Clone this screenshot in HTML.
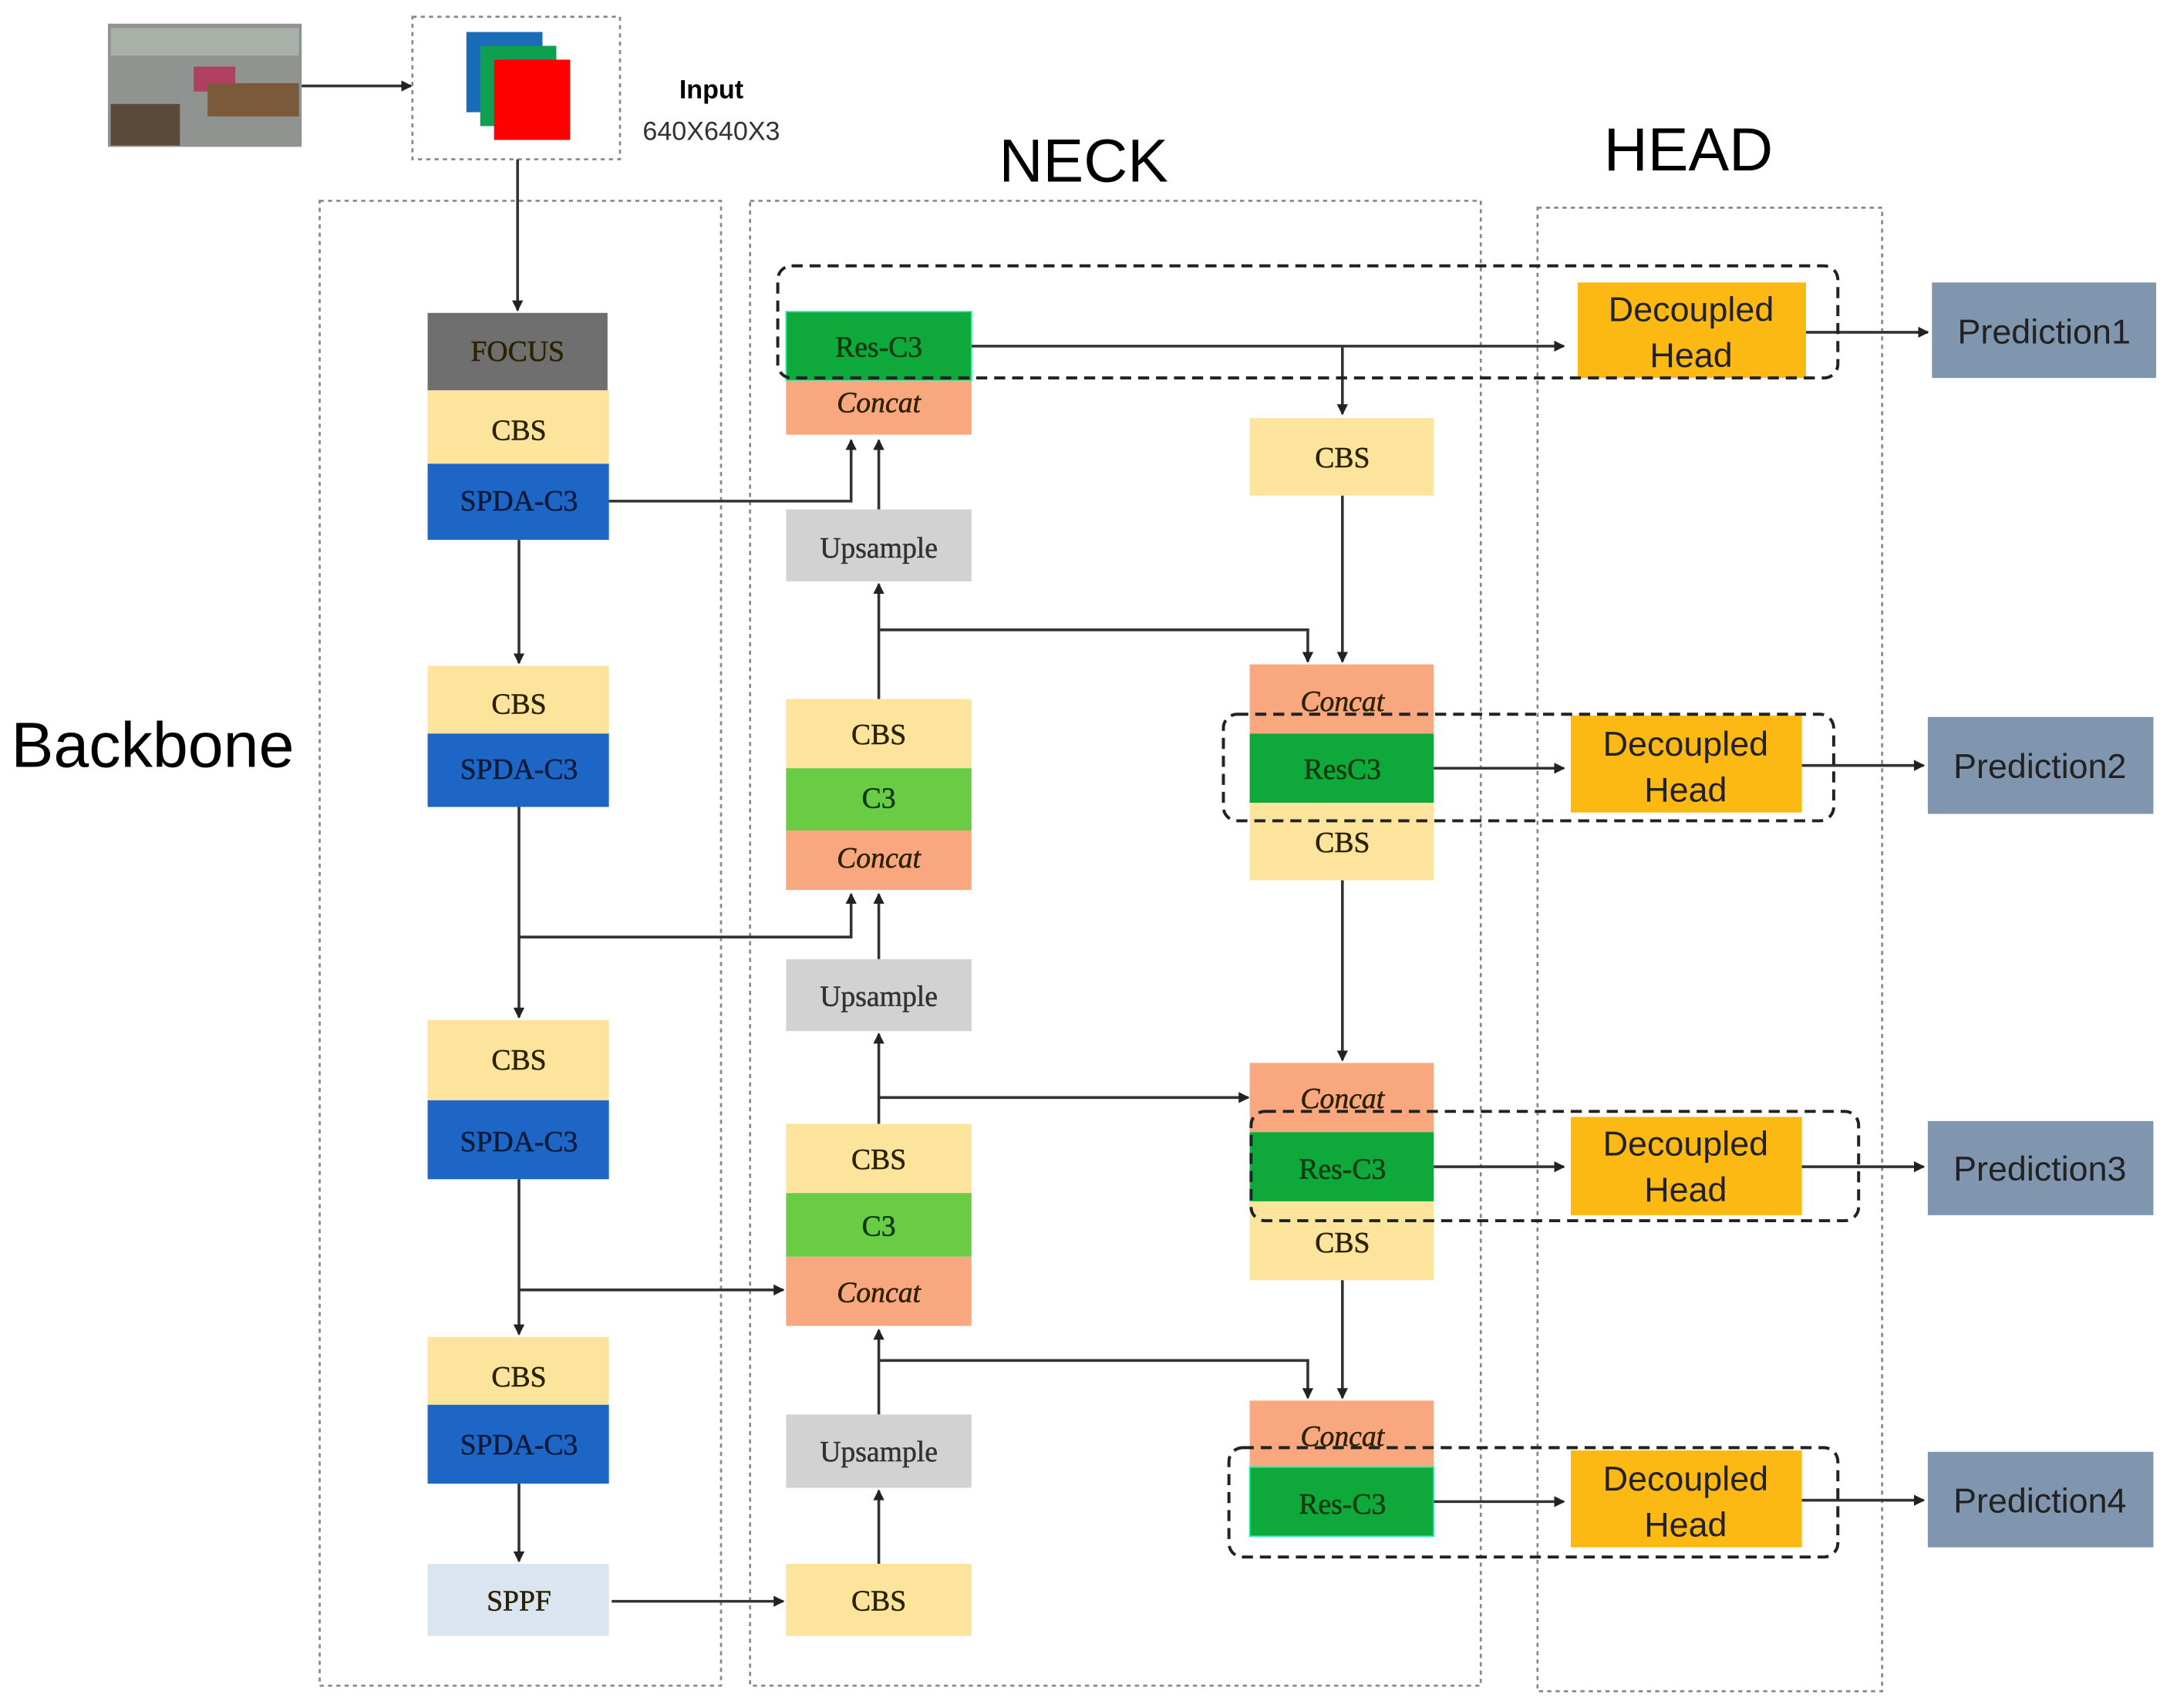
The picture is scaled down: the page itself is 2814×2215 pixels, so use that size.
<!DOCTYPE html>
<html><head><meta charset="utf-8"><style>html,body{margin:0;padding:0;background:#fff}svg{display:block}</style></head>
<body>
<svg width="2814" height="2215" viewBox="0 0 1568 1234" xmlns="http://www.w3.org/2000/svg">
<defs>
<marker id="a" markerWidth="8" markerHeight="8" refX="7" refY="4" orient="auto" markerUnits="userSpaceOnUse"><path d="M0,0 L8,4 L0,8 z" fill="#222"/></marker>
</defs>
<style>
.s{font-family:"Liberation Serif",serif;font-size:21px;text-anchor:middle;dominant-baseline:central;fill:#2a2200;stroke:#2a2200;stroke-width:0.3}
.i{font-style:italic}
.h{font-family:"Liberation Sans",sans-serif;font-size:25px;text-anchor:middle;fill:#222}
.l{stroke:#333;stroke-width:2;fill:none}
.d{stroke:#888;stroke-width:1.5;fill:none;stroke-dasharray:3,3}
.k{stroke:#222;stroke-width:2.2;fill:none;stroke-dasharray:8,5}
</style>
<rect x="78" y="17" width="140" height="89" fill="#8f9490"/>
<rect x="80" y="75" width="50" height="30" fill="#5a4a3a"/>
<rect x="140" y="48" width="30" height="18" fill="#b04060"/>
<rect x="150" y="60" width="66" height="24" fill="#7a5a3a"/>
<rect x="80" y="20" width="136" height="20" fill="#a8b0a8"/>
<line x1="218" y1="62" x2="297" y2="62" class="l" marker-end="url(#a)"/>
<rect x="298" y="12" width="150" height="103" class="d"/>
<rect x="337" y="23" width="55" height="58" fill="#1a6cb8"/>
<rect x="347" y="33" width="55" height="58" fill="#0ea050"/>
<rect x="357" y="43" width="55" height="58" fill="#f00"/>
<text x="514" y="71" font-family="Liberation Sans,sans-serif" font-size="19" font-weight="bold" text-anchor="middle">Input</text>
<text x="514" y="101" font-family="Liberation Sans,sans-serif" font-size="19" text-anchor="middle" fill="#333">640X640X3</text>
<rect x="231" y="145" width="290" height="1073" class="d"/>
<rect x="542" y="145" width="528" height="1073" class="d"/>
<rect x="1111" y="150" width="249" height="1072" class="d"/>
<text x="783" y="131" font-family="Liberation Sans,sans-serif" font-size="44" text-anchor="middle">NECK</text>
<text x="1220" y="123" font-family="Liberation Sans,sans-serif" font-size="44" text-anchor="middle">HEAD</text>
<text x="8" y="554" font-family="Liberation Sans,sans-serif" font-size="46">Backbone</text>
<line x1="374" y1="115" x2="374" y2="224" class="l" marker-end="url(#a)"/>
<rect x="309" y="226" width="130" height="56" fill="#6f6f6f"/><text x="374" y="254" class="s">FOCUS</text>
<rect x="309" y="282" width="131" height="53" fill="#fde49d"/><text x="375" y="311" class="s">CBS</text>
<rect x="309" y="335" width="131" height="55" fill="#1e66c6"/><text x="375" y="362" class="s" style="fill:#0b1a3a;stroke:#0b1a3a">SPDA-C3</text>
<line x1="375" y1="390" x2="375" y2="479" class="l" marker-end="url(#a)"/>
<rect x="309" y="481" width="131" height="49" fill="#fde49d"/><text x="375" y="509" class="s">CBS</text>
<rect x="309" y="530" width="131" height="53" fill="#1e66c6"/><text x="375" y="556" class="s" style="fill:#0b1a3a;stroke:#0b1a3a">SPDA-C3</text>
<line x1="375" y1="583" x2="375" y2="735" class="l" marker-end="url(#a)"/>
<rect x="309" y="737" width="131" height="58" fill="#fde49d"/><text x="375" y="766" class="s">CBS</text>
<rect x="309" y="795" width="131" height="57" fill="#1e66c6"/><text x="375" y="825" class="s" style="fill:#0b1a3a;stroke:#0b1a3a">SPDA-C3</text>
<line x1="375" y1="852" x2="375" y2="964" class="l" marker-end="url(#a)"/>
<rect x="309" y="966" width="131" height="49" fill="#fde49d"/><text x="375" y="995" class="s">CBS</text>
<rect x="309" y="1015" width="131" height="57" fill="#1e66c6"/><text x="375" y="1044" class="s" style="fill:#0b1a3a;stroke:#0b1a3a">SPDA-C3</text>
<line x1="375" y1="1072" x2="375" y2="1128" class="l" marker-end="url(#a)"/>
<rect x="309" y="1130" width="131" height="52" fill="#dbe5f1"/><text x="375" y="1157" class="s">SPPF</text>
<line x1="442" y1="1157" x2="566" y2="1157" class="l" marker-end="url(#a)"/>
<polyline points="440,362 615,362 615,318" class="l" marker-end="url(#a)"/>
<polyline points="375,677 615,677 615,646" class="l" marker-end="url(#a)"/>
<line x1="375" y1="932" x2="566" y2="932" class="l" marker-end="url(#a)"/>
<rect x="568" y="225" width="134" height="50" fill="#0fa83a" stroke="#2ef0b0" stroke-width="1"/><text x="635" y="251" class="s" style="fill:#0a3a10;stroke:#0a3a10">Res-C3</text>
<rect x="568" y="275" width="134" height="39" fill="#f9a77e"/><text x="635" y="291" class="s i">Concat</text>
<line x1="635" y1="368" x2="635" y2="318" class="l" marker-end="url(#a)"/>
<rect x="568" y="368" width="134" height="52" fill="#d2d2d2"/><text x="635" y="396" class="s" style="fill:#333;stroke:#333">Upsample</text>
<line x1="635" y1="505" x2="635" y2="422" class="l" marker-end="url(#a)"/>
<polyline points="635,455 945,455 945,478" class="l" marker-end="url(#a)"/>
<rect x="568" y="505" width="134" height="50" fill="#fde49d"/><text x="635" y="531" class="s">CBS</text>
<rect x="568" y="555" width="134" height="45" fill="#6acb45"/><text x="635" y="577" class="s" style="fill:#0a3a10;stroke:#0a3a10">C3</text>
<rect x="568" y="600" width="134" height="43" fill="#f9a77e"/><text x="635" y="620" class="s i">Concat</text>
<line x1="635" y1="693" x2="635" y2="646" class="l" marker-end="url(#a)"/>
<rect x="568" y="693" width="134" height="52" fill="#d2d2d2"/><text x="635" y="720" class="s" style="fill:#333;stroke:#333">Upsample</text>
<line x1="635" y1="812" x2="635" y2="747" class="l" marker-end="url(#a)"/>
<line x1="635" y1="793" x2="902" y2="793" class="l" marker-end="url(#a)"/>
<rect x="568" y="812" width="134" height="50" fill="#fde49d"/><text x="635" y="838" class="s">CBS</text>
<rect x="568" y="862" width="134" height="46" fill="#6acb45"/><text x="635" y="886" class="s" style="fill:#0a3a10;stroke:#0a3a10">C3</text>
<rect x="568" y="908" width="134" height="50" fill="#f9a77e"/><text x="635" y="934" class="s i">Concat</text>
<line x1="635" y1="1022" x2="635" y2="961" class="l" marker-end="url(#a)"/>
<polyline points="635,983 945,983 945,1010" class="l" marker-end="url(#a)"/>
<rect x="568" y="1022" width="134" height="53" fill="#d2d2d2"/><text x="635" y="1049" class="s" style="fill:#333;stroke:#333">Upsample</text>
<line x1="635" y1="1130" x2="635" y2="1077" class="l" marker-end="url(#a)"/>
<rect x="568" y="1130" width="134" height="52" fill="#fde49d"/><text x="635" y="1157" class="s">CBS</text>
<line x1="970" y1="250" x2="970" y2="299" class="l" marker-end="url(#a)"/>
<rect x="903" y="302" width="133" height="56" fill="#fde49d"/><text x="970" y="331" class="s">CBS</text>
<line x1="970" y1="358" x2="970" y2="478" class="l" marker-end="url(#a)"/>
<rect x="903" y="480" width="133" height="50" fill="#f9a77e"/><text x="970" y="507" class="s i">Concat</text>
<rect x="903" y="530" width="133" height="50" fill="#0fa83a"/><text x="970" y="556" class="s" style="fill:#0a3a10;stroke:#0a3a10">ResC3</text>
<rect x="903" y="580" width="133" height="56" fill="#fde49d"/><text x="970" y="609" class="s">CBS</text>
<line x1="970" y1="636" x2="970" y2="766" class="l" marker-end="url(#a)"/>
<rect x="903" y="768" width="133" height="50" fill="#f9a77e"/><text x="970" y="794" class="s i">Concat</text>
<rect x="903" y="818" width="133" height="50" fill="#0fa83a"/><text x="970" y="845" class="s" style="fill:#0a3a10;stroke:#0a3a10">Res-C3</text>
<rect x="903" y="868" width="133" height="57" fill="#fde49d"/><text x="970" y="898" class="s">CBS</text>
<line x1="970" y1="925" x2="970" y2="1010" class="l" marker-end="url(#a)"/>
<rect x="903" y="1012" width="133" height="48" fill="#f9a77e"/><text x="970" y="1038" class="s i">Concat</text>
<rect x="903" y="1060" width="133" height="50" fill="#0fa83a" stroke="#2ef0b0" stroke-width="1"/><text x="970" y="1087" class="s" style="fill:#0a3a10;stroke:#0a3a10">Res-C3</text>
<line x1="702" y1="250" x2="1130" y2="250" class="l" marker-end="url(#a)"/>
<line x1="1036" y1="555" x2="1130" y2="555" class="l" marker-end="url(#a)"/>
<line x1="1036" y1="843" x2="1130" y2="843" class="l" marker-end="url(#a)"/>
<line x1="1036" y1="1085" x2="1130" y2="1085" class="l" marker-end="url(#a)"/>
<rect x="1140" y="204" width="165" height="69" fill="#fdb913"/><text x="1222" y="232" class="h">Decoupled</text><text x="1222" y="265" class="h">Head</text>
<rect x="1135" y="517" width="167" height="70" fill="#fdb913"/><text x="1218" y="546" class="h">Decoupled</text><text x="1218" y="579" class="h">Head</text>
<rect x="1135" y="807" width="167" height="71" fill="#fdb913"/><text x="1218" y="835" class="h">Decoupled</text><text x="1218" y="868" class="h">Head</text>
<rect x="1135" y="1048" width="167" height="70" fill="#fdb913"/><text x="1218" y="1077" class="h">Decoupled</text><text x="1218" y="1110" class="h">Head</text>
<line x1="1305" y1="240" x2="1393" y2="240" class="l" marker-end="url(#a)"/>
<line x1="1302" y1="553" x2="1390" y2="553" class="l" marker-end="url(#a)"/>
<line x1="1302" y1="843" x2="1390" y2="843" class="l" marker-end="url(#a)"/>
<line x1="1302" y1="1084" x2="1390" y2="1084" class="l" marker-end="url(#a)"/>
<rect x="1396" y="204" width="162" height="69" fill="#7f96ae"/><text x="1477" y="248" class="h" font-size="24">Prediction1</text>
<rect x="1393" y="518" width="163" height="70" fill="#7f96ae"/><text x="1474" y="562" class="h" font-size="24">Prediction2</text>
<rect x="1393" y="810" width="163" height="68" fill="#7f96ae"/><text x="1474" y="853" class="h" font-size="24">Prediction3</text>
<rect x="1393" y="1049" width="163" height="69" fill="#7f96ae"/><text x="1474" y="1093" class="h" font-size="24">Prediction4</text>
<rect x="562" y="192" width="766" height="81" rx="10" class="k"/>
<rect x="884" y="516" width="441" height="77" rx="10" class="k"/>
<rect x="904" y="803" width="439" height="79" rx="10" class="k"/>
<rect x="888" y="1046" width="440" height="79" rx="10" class="k"/>
</svg>
</body></html>
